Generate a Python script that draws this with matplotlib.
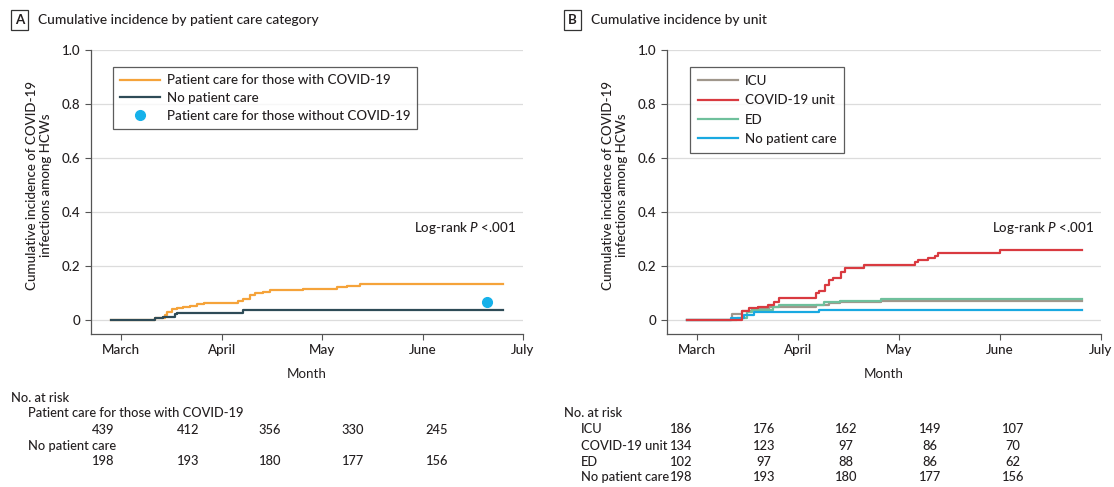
import matplotlib
matplotlib.use("Agg")
from matplotlib import pyplot as plt
from matplotlib.lines import Line2D

plt.rcParams['font.family'] = ['Lato', 'DejaVu Sans']
plt.rcParams['font.weight'] = 500
plt.rcParams['mathtext.fontset'] = 'custom'
plt.rcParams['mathtext.it'] = 'Lato:italic'
plt.rcParams['mathtext.rm'] = 'Lato'

# x axis in days from 1 March
month_ticks = [0, 30, 60, 90, 120]
month_labels = ['March', 'April', 'May', 'June', 'July']
y_ticks = [0, 0.2, 0.4, 0.6, 0.8, 1.0]
y_labels = ['0', '0.2', '0.4', '0.6', '0.8', '1.0']

# panel A
covid_care_days = [-3, 10.1, 13.1, 13.6, 15.1, 16.6, 18.6, 20.6, 22.6, 24.6, 35.0, 36.5,
                   38.5, 40, 42.5, 44.5, 54.4, 64.4, 67.4, 71.3, 89.8, 114]
covid_care_vals = [0, 0.006, 0.018, 0.031, 0.040, 0.043, 0.047, 0.052, 0.058, 0.064, 0.072, 0.078,
                   0.093, 0.099, 0.105, 0.112, 0.116, 0.121, 0.126, 0.132, 0.134, 0.134]
no_care_days_a = [-3, 10, 12.6, 16.1, 16.8, 36.5, 114]
no_care_vals_a = [0, 0.006, 0.012, 0.022, 0.027, 0.037, 0.037]
non_covid_day = 109.2
non_covid_val = 0.068

# panel B
icu_days = [-3, 10.4, 13.4, 16.4, 21.4, 35.3, 39.3, 42.3, 54.7, 114.3]
icu_vals = [0, 0.022, 0.033, 0.040, 0.048, 0.054, 0.062, 0.066, 0.071, 0.071]
unit_days = [-3, 13.4, 15.4, 17.9, 20.9, 22.9, 24.4, 35.3, 36.3, 38.1, 39.3, 40.3, 42.8, 43.8,
             49.7, 64.6, 65.6, 68.6, 70.6, 71.6, 90, 114.3]
unit_vals = [0, 0.035, 0.044, 0.049, 0.057, 0.066, 0.082, 0.101, 0.107, 0.128, 0.147, 0.155,
             0.178, 0.194, 0.204, 0.213, 0.221, 0.230, 0.238, 0.247, 0.258, 0.258]
ed_days = [-3, 11.9, 14.9, 16.4, 22.4, 24.4, 37.8, 42.3, 54.7, 114.3]
ed_vals = [0, 0.008, 0.028, 0.037, 0.049, 0.055, 0.066, 0.072, 0.078, 0.078]
no_care_days_b = [-3, 10, 13.9, 16.9, 36.3, 114.3]
no_care_vals_b = [0, 0.008, 0.018, 0.028, 0.037, 0.037]

# numbers at risk
risk_a_labels = ['Patient care for those with COVID-19', 'No patient care']
risk_a = [[439, 412, 356, 330, 245], [198, 193, 180, 177, 156]]
risk_b_labels = ['ICU', 'COVID-19 unit', 'ED', 'No patient care']
risk_b = [[186, 176, 162, 149, 107], [134, 123, 97, 86, 70],
          [102, 97, 88, 86, 62], [198, 193, 180, 177, 156]]

W, H = 1114, 487
fig = plt.figure(figsize=(W / 100, H / 100), dpi=100)
TXT = '#231f20'
FS = 9.6
FS_TAB = 9.3


def fx(px):
    return px / W


def fy(py):
    return 1 - py / H


def setup(ax):
    ax.set_xlim(-9, 120)
    ax.set_ylim(-0.052, 1.0)
    ax.set_xticks(month_ticks)
    ax.set_xticklabels(month_labels)
    ax.set_yticks(y_ticks)
    ax.set_yticklabels(y_labels)
    ax.tick_params(colors=TXT, labelsize=FS, length=4, width=0.8, color='#555555')
    for s in ['top', 'right']:
        ax.spines[s].set_visible(False)
    for s in ['left', 'bottom']:
        ax.spines[s].set_color('#555555')
        ax.spines[s].set_linewidth(0.9)
    ax.grid(axis='y', color='#dcdcdc', linewidth=0.9)
    ax.set_axisbelow(True)
    ax.set_xlabel('Month', fontsize=FS, color=TXT, labelpad=8)
    ax.text(0.985, 0.34, 'Log-rank $P$ <.001', transform=ax.get_yaxis_transform(),
            ha='right', va='center', fontsize=FS, color=TXT)


def style_legend(leg):
    leg.get_frame().set_edgecolor('#333333')
    leg.get_frame().set_linewidth(0.9)


def panel_title(px, letter, title):
    fig.text(fx(px), fy(20), letter, fontsize=FS, fontweight='bold', color=TXT, va='center',
             bbox=dict(boxstyle='square,pad=0.3', fc='white', ec='#333333', lw=0.9))
    fig.text(fx(px + 23), fy(20), title, fontsize=9.9, color=TXT, va='center')


# Panel A
axA = fig.add_axes([fx(91), fy(334), fx(523 - 91), (334 - 50) / H])
setup(axA)
axA.step(covid_care_days, covid_care_vals, where='post', color='#f5a33a', lw=1.6)
axA.step(no_care_days_a, no_care_vals_a, where='post', color='#2e4b57', lw=1.6)
axA.plot([non_covid_day], [non_covid_val], 'o', color='#16b1ea', ms=7)
handles_a = [Line2D([], [], color='#f5a33a', lw=1.6),
             Line2D([], [], color='#2e4b57', lw=1.6),
             Line2D([], [], color='#16b1ea', marker='o', ls='none', ms=7)]
leg = axA.legend(handles_a, ['Patient care for those with COVID-19', 'No patient care',
                             'Patient care for those without COVID-19'],
                 loc='upper left', bbox_to_anchor=(0.05, 0.94), borderaxespad=0, fontsize=FS,
                 frameon=True, fancybox=False, handlelength=3.0, labelspacing=0.42,
                 borderpad=0.55, handletextpad=0.5, labelcolor=TXT)
style_legend(leg)
panel_title(15, 'A', 'Cumulative incidence by patient care category')
fig.text(fx(39), fy(185), 'Cumulative incidence of COVID-19\ninfections among HCWs',
         rotation=90, ha='center', va='center', fontsize=FS, color=TXT, linespacing=1.15)

# Panel B
axB = fig.add_axes([fx(667), fy(334), fx(1101 - 667), (334 - 50) / H])
setup(axB)
axB.step(icu_days, icu_vals, where='post', color='#a0978c', lw=1.6)
axB.step(ed_days, ed_vals, where='post', color='#6fc09c', lw=1.6)
axB.step(no_care_days_b, no_care_vals_b, where='post', color='#19a9e1', lw=1.6)
axB.step(unit_days, unit_vals, where='post', color='#d93a40', lw=1.6)
handles_b = [Line2D([], [], color='#a0978c', lw=1.6),
             Line2D([], [], color='#d93a40', lw=1.6),
             Line2D([], [], color='#6fc09c', lw=1.6),
             Line2D([], [], color='#19a9e1', lw=1.6)]
leg = axB.legend(handles_b, risk_b_labels, loc='upper left', bbox_to_anchor=(0.053, 0.94),
                 borderaxespad=0, fontsize=FS, frameon=True, fancybox=False, handlelength=3.0,
                 labelspacing=0.55, borderpad=0.6, handletextpad=0.5, labelcolor=TXT)
style_legend(leg)
panel_title(568, 'B', 'Cumulative incidence by unit')
fig.text(fx(615), fy(185), 'Cumulative incidence of COVID-19\ninfections among HCWs',
         rotation=90, ha='center', va='center', fontsize=FS, color=TXT, linespacing=1.15)

# risk table A
cols_a = [103, 188, 270, 353, 437]
fig.text(fx(11), fy(398), 'No. at risk', fontsize=FS_TAB, color=TXT, va='center')
rows_a = [(413, 430), (446, 461)]
for label, vals, (ly, ny) in zip(risk_a_labels, risk_a, rows_a):
    fig.text(fx(28), fy(ly), label, fontsize=FS_TAB, color=TXT, va='center')
    for cx, v in zip(cols_a, vals):
        fig.text(fx(cx), fy(ny), str(v), fontsize=FS_TAB, color=TXT, va='center', ha='center')

# risk table B
cols_b = [681, 764, 846, 930, 1013]
fig.text(fx(564), fy(413), 'No. at risk', fontsize=FS_TAB, color=TXT, va='center')
rows_b = [429, 446, 462, 477]
for label, vals, ry in zip(risk_b_labels, risk_b, rows_b):
    fig.text(fx(581), fy(ry), label, fontsize=FS_TAB, color=TXT, va='center')
    for cx, v in zip(cols_b, vals):
        fig.text(fx(cx), fy(ry), str(v), fontsize=FS_TAB, color=TXT, va='center', ha='center')

fig.savefig('out.png', dpi=100)
